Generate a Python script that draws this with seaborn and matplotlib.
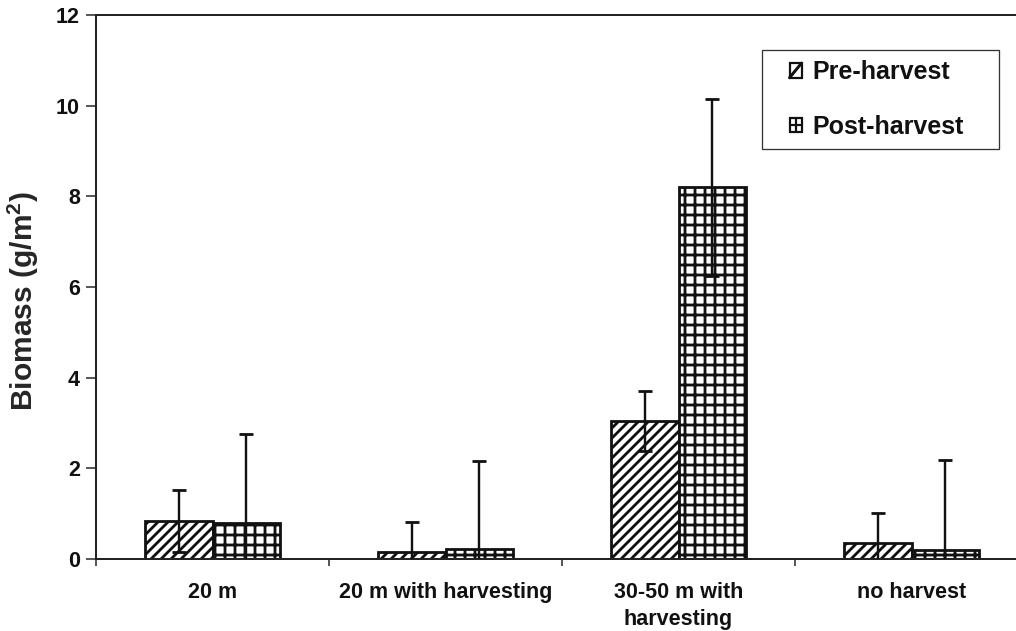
import matplotlib
matplotlib.use('Agg')
import matplotlib.pyplot as plt
import seaborn as sns
import pandas as pd
import numpy as np
from matplotlib.patches import Patch, Rectangle
from matplotlib.lines import Line2D
from matplotlib.legend_handler import HandlerBase

categories = ["20 m", "20 m with harvesting", "30-50 m with\nharvesting", "no harvest"]
series = ["Pre-harvest", "Post-harvest"]
pre_values = [0.84, 0.16, 3.05, 0.35]
post_values = [0.80, 0.22, 8.20, 0.20]
pre_errors = [0.68, 0.66, 0.66, 0.66]
post_errors = [1.96, 1.95, 1.95, 1.99]
y_ticks = [0, 2, 4, 6, 8, 10, 12]
y_label = "Biomass (g/m$^2$)"

DPI = 60


def pt(px):
    return px * 72.0 / DPI


sns.set_theme(style="white")
plt.rcParams['font.family'] = ['Liberation Sans', 'DejaVu Sans']
plt.rcParams['font.weight'] = 'bold'
plt.rcParams['mathtext.fontset'] = 'custom'
plt.rcParams['mathtext.rm'] = 'Liberation Sans:bold'
plt.rcParams['mathtext.bf'] = 'Liberation Sans:bold'
plt.rcParams['mathtext.it'] = 'Liberation Sans:bold'
plt.rcParams['hatch.linewidth'] = pt(2.8)
plt.rcParams['hatch.color'] = '#111111'
plt.rcParams['text.color'] = '#111111'
plt.rcParams['xtick.color'] = '#222222'
plt.rcParams['ytick.color'] = '#222222'
plt.rcParams['xtick.labelcolor'] = '#111111'
plt.rcParams['ytick.labelcolor'] = '#111111'

fig = plt.figure(figsize=(1016 / DPI, 631 / DPI), dpi=DPI)
fig.patch.set_facecolor('white')
ax = fig.add_axes([96 / 1016, (631 - 559) / 631, (1028 - 96) / 1016, (559 - 15) / 631])

df = pd.DataFrame({
    'category': categories * 2,
    'series': [series[0]] * len(categories) + [series[1]] * len(categories),
    'value': pre_values + post_values,
})

sns.barplot(data=df, x='category', y='value', hue='series', order=categories,
            hue_order=series, palette=['white', 'white'], saturation=1,
            edgecolor='#111111', linewidth=pt(2.8), width=0.58,
            errorbar=None, legend=False, ax=ax)

hatches = ['//', '+']
for container, h, errs in zip(ax.containers, hatches, [pre_errors, post_errors]):
    xs, ys = [], []
    for bar in container:
        bar.set_hatch(h)
        xs.append(bar.get_x() + bar.get_width() / 2)
        ys.append(bar.get_height())
    ax.errorbar(xs, ys, yerr=errs, fmt='none', ecolor='#111111',
                elinewidth=pt(2.4), capsize=pt(7), capthick=pt(2.8), zorder=5)

ax.set_xlim(-0.5, len(categories) - 0.5)
ax.set_ylim(0, 12)
ax.set_yticks(y_ticks)
ax.set_yticklabels([str(v) for v in y_ticks])
ax.set_xticks(range(len(categories)))
ax.set_xticklabels(categories, linespacing=1.35)
ax.set_xticks(np.arange(-0.5, len(categories), 1), minor=True)
ax.tick_params(axis='x', which='major', length=0, pad=pt(23), labelsize=pt(21.5))
ax.tick_params(axis='x', which='minor', length=pt(7), width=pt(1.5),
               direction='out', bottom=True)
ax.tick_params(axis='y', length=pt(10), width=pt(1.5), direction='out',
               left=True, pad=pt(6), labelsize=pt(21.5))
ax.set_xlabel('')
ax.set_ylabel(y_label, fontsize=pt(30), fontweight='bold')
ax.yaxis.set_label_coords(-0.059, 0.474)

for side, sp in ax.spines.items():
    sp.set_visible(True)
    sp.set_color('#222222')
    sp.set_linewidth(pt(2))


class SwatchHandler(HandlerBase):
    """Small outlined square with a single diagonal or a centred cross."""

    def __init__(self, kind, offset_frac):
        super().__init__()
        self.kind = kind
        self.offset_frac = offset_frac

    def create_artists(self, legend, orig_handle, xdescent, ydescent, width,
                       height, fontsize, trans):
        off = self.offset_frac * width
        x0 = -xdescent + off
        y0 = -ydescent
        w = width - off
        h = height
        arts = [Rectangle((x0, y0), w, h, facecolor='white', edgecolor='#111111',
                          linewidth=pt(2.2), transform=trans)]
        if self.kind == 'diag':
            arts.append(Line2D([x0, x0 + w], [y0, y0 + h], color='#111111',
                               linewidth=pt(3), transform=trans))
        else:
            arts.append(Line2D([x0 + w / 2, x0 + w / 2], [y0, y0 + h],
                               color='#111111', linewidth=pt(2.2), transform=trans))
            arts.append(Line2D([x0, x0 + w], [y0 + h / 2, y0 + h / 2],
                               color='#111111', linewidth=pt(2.2), transform=trans))
        return arts


handles = [Patch(facecolor='white', edgecolor='#111111', label=s) for s in series]
leg = ax.legend(handles=handles, loc='upper left',
                bbox_to_anchor=(0.7146, 0.936 - 0.184, 0.2543, 0.184), mode='expand',
                borderaxespad=0, fontsize=pt(25), frameon=True, fancybox=False,
                shadow=False, borderpad=0.42, labelspacing=1.22,
                handlelength=29 / 25, handleheight=13 / 25, handletextpad=0.45,
                handler_map={handles[0]: SwatchHandler('diag', 17 / 29),
                             handles[1]: SwatchHandler('cross', 17 / 29)})
frame = leg.get_frame()
frame.set_edgecolor('#333333')
frame.set_linewidth(pt(1.3))
frame.set_facecolor('white')
frame.set_alpha(1)
for t in leg.get_texts():
    t.set_fontweight('bold')

fig.savefig('out.png', dpi=DPI, facecolor='white')
